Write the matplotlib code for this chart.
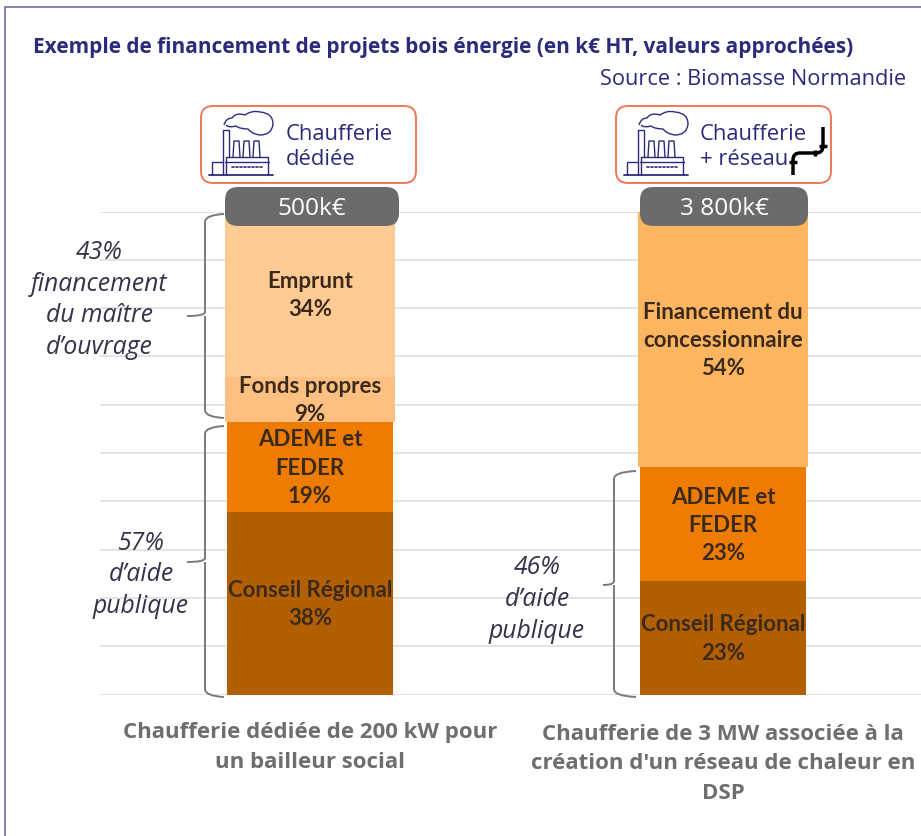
import matplotlib
matplotlib.use("Agg")
import matplotlib.pyplot as plt
from matplotlib.patches import FancyBboxPatch, PathPatch
from matplotlib.path import Path

# segments from bottom to top, heights, printed percents apart
names_a = ["Conseil Régional", "ADEME et\nFEDER", "Fonds propres", "Emprunt"]
heights_a = [37.7, 18.8, 9.3, 34.2]
percents_a = [38, 19, 9, 34]
widths_a = [0.40, 0.40, 0.41, 0.41]
colours_a = ["#b25f02", "#ee7c02", "#fdc081", "#fdcb93"]
names_b = ["Conseil Régional", "ADEME et\nFEDER", "Financement du\nconcessionnaire"]
heights_b = [23.4, 23.6, 53.0]
percents_b = [23, 23, 54]
widths_b = [0.40, 0.40, 0.41]
colours_b = ["#b25f02", "#ee7c02", "#fdb65f"]
totals = ["500k€", "3 800k€"]
captions = ["Chaufferie dédiée de 200 kW pour\nun bailleur social",
            "Chaufferie de 3 MW associée à la\ncréation d'un réseau de chaleur en\nDSP"]
grid_ticks = [0, 10, 20, 30, 40, 50, 60, 70, 80, 90, 100]

NAVY = "#2b2b7a"
BRACE = "#7a7a7a"
UI = "Open Sans"

fig = plt.figure(figsize=(9.21, 8.37), dpi=100)
fig.patch.set_facecolor("white")

# chart axes, one x unit = distance between the two bars
ax = fig.add_axes([100 / 921, (837 - 695.5) / 837, 821 / 921, 483 / 837])
ax.set_xlim(-210 / 413, 1 + 198 / 413)
ax.set_ylim(0, 100)
ax.set_yticks(grid_ticks)
ax.set_xticks([])
ax.tick_params(left=False, labelleft=False)
ax.grid(axis="y", color="#dedede", linewidth=1.2)
ax.set_axisbelow(True)
for s in ax.spines.values():
    s.set_visible(False)


def stack(x, names, heights, percents, widths, colours):
    bottom = 0
    for n, h, p, w, c in zip(names, heights, percents, widths, colours):
        ax.bar(x, h, w, bottom=bottom, color=c, linewidth=0)
        ax.text(x, bottom + h / 2, n + "\n" + str(p) + "%", ha="center", va="center",
                fontsize=16, fontweight="bold", family="Lato",
                color="#3b2a1c", linespacing=1.42, clip_on=False)
        bottom += h


stack(0, names_a, heights_a, percents_a, widths_a, colours_a)
stack(1, names_b, heights_b, percents_b, widths_b, colours_b)

# overlay in pixel coordinates for the decoration
ov = fig.add_axes([0, 0, 1, 1])
ov.set_xlim(0, 921)
ov.set_ylim(836, -1)
ov.axis("off")
ov.patch.set_alpha(0)

# frame
ov.plot([5, 5, 921], [837, 7, 7], color="#6f6fa8", lw=1.2, solid_joinstyle="miter")

ov.text(33, 47, "Exemple de financement de projets bois énergie (en k€ HT, valeurs approchées)",
        fontsize=15, fontweight="bold", color=NAVY, family=UI, va="center")
ov.text(906, 78.5, "Source : Biomasse Normandie", fontsize=15.7, color=NAVY, family=UI,
        va="center", ha="right")


def round_box(x0, y0, x1, y1, r, **kw):
    p = FancyBboxPatch((x0 + r, y0 + r), x1 - x0 - 2 * r, y1 - y0 - 2 * r,
                       boxstyle="round,pad=%d,rounding_size=%d" % (r, r), **kw)
    ov.add_patch(p)


def factory(dx, dy):
    # drawn for the left icon, dx/dy moves it
    k = dict(color=NAVY, lw=1.0, solid_capstyle="round")
    def L(xs, ys, **kw):
        ov.plot([x + dx for x in xs], [y + dy for y in ys], **{**k, **kw})
    L([209, 273], [175, 175], lw=1.3)
    L([223, 223, 229, 229], [175, 130, 130, 157])
    L([212, 212, 223], [175, 162, 162])
    L([226, 226, 268, 268], [175, 157, 157, 175])
    L([225, 269], [162, 162])
    for x in (233, 243, 253):
        L([x, x + 1, x + 6, x + 7], [157, 141, 141, 157])
    for x in range(232, 263, 4):
        L([x, x + 1.5], [167, 167], lw=1.2)
    v = [(224, 125), (226, 118), (232, 118), (236, 112), (245, 115), (252, 110), (260, 112),
         (273, 113), (273, 124), (272, 135), (260, 135), (252, 134), (248, 129),
         (240, 129), (236, 126), (229, 128), (226, 125)]
    v = [(x + dx, y + dy) for x, y in v]
    c = [Path.MOVETO] + [Path.CURVE3] * 16
    ov.add_patch(PathPatch(Path(v, c), fill=False, edgecolor=NAVY, lw=1.0))


def pipe():
    k = dict(color="black", lw=2.5, solid_capstyle="butt")
    v = [(823, 127), (823, 146), (823, 153), (816, 153), (800, 153), (793, 153), (793, 160), (793, 175)]
    c = [Path.MOVETO, Path.LINETO, Path.CURVE3, Path.CURVE3, Path.LINETO, Path.CURVE3, Path.CURVE3, Path.LINETO]
    ov.add_patch(PathPatch(Path(v, c), fill=False, edgecolor="black", lw=2.5))
    # flanges
    ov.plot([819, 827], [146, 146], **k)
    ov.plot([815, 815], [150, 156], **k)
    ov.plot([789, 797], [162, 162], **k)


for i, (bx, px0, px1) in enumerate([(201, 225, 399), (616, 640, 808)]):
    round_box(bx, 106, bx + 215, 183, 12, facecolor="white", edgecolor="#f0775a", linewidth=1.4)
    factory(bx - 201, 0)
    round_box(px0, 187, px1, 226, 13, facecolor="#6b6b6b", edgecolor="none")
    ov.text((px0 + px1) / 2, 208, totals[i], color="white", fontsize=17.6, family=UI,
            ha="center", va="center")

ov.text(286, 146, "Chaufferie\ndédiée", fontsize=15.8, color=NAVY, family=UI, va="center",
        linespacing=1.2)
ov.text(700, 146, "Chaufferie\n+ réseau", fontsize=15.8, color=NAVY, family=UI, va="center",
        linespacing=1.2)
pipe()


def brace(xs, xe, xt, y0, ym, y1):
    # xs spine, xe tips towards bar, xt middle point
    v = [(xe, y0), (xs, y0 + 1), (xs, y0 + 8), (xs, ym - 4), (xs, ym), (xt, ym), (xs, ym), (xs, ym + 4),
         (xs, y1 - 8), (xs, y1 - 1), (xe, y1)]
    c = [Path.MOVETO, Path.CURVE3, Path.CURVE3, Path.LINETO, Path.CURVE3, Path.CURVE3,
         Path.MOVETO, Path.CURVE3, Path.LINETO, Path.CURVE3, Path.CURVE3]
    ov.add_patch(PathPatch(Path(v, c), fill=False, edgecolor=BRACE, lw=1.4))


brace(205, 224, 187, 214, 316, 418)
brace(205, 224, 187, 426, 562, 697)
brace(614, 636, 603, 471, 585, 697)

for x, y, s in [(99, 299, "43%\nfinancement\ndu maître\nd’ouvrage"),
                (141, 574, "57%\nd’aide\npublique"),
                (537, 598.5, "46%\nd’aide\npublique")]:
    ov.text(x, y, s, ha="center", va="center", style="italic", fontsize=17.8, family=UI,
            color="#33334a", linespacing=1.36)

for x, y, s in [(310, 746.5, captions[0]), (723, 763, captions[1])]:
    ov.text(x, y, s, ha="center", va="center", fontsize=16, fontweight="bold", family=UI,
            color="#6e6e6e", linespacing=1.55)

fig.savefig("out.png", dpi=100)
